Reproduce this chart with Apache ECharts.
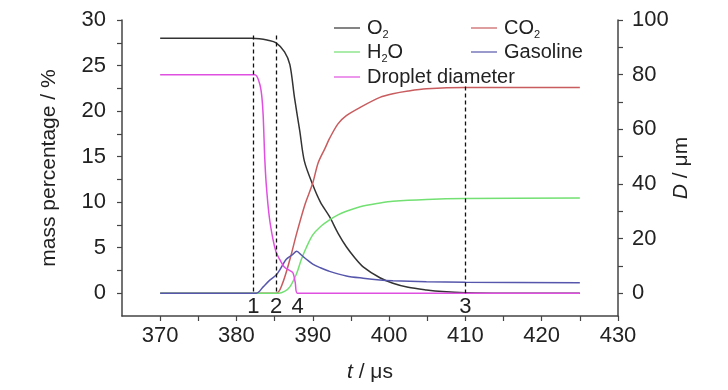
<!DOCTYPE html>
<html><head><meta charset="utf-8">
<script src="https://cdn.jsdelivr.net/npm/echarts@6/dist/echarts.min.js"></script>
<style>html,body{margin:0;padding:0;background:#fff}#c{width:728px;height:390px}</style>
</head><body><div id="c"></div>
<script>
// ---- data ----
var tO2 = [370, 382, 383, 384, 385.2, 386.3, 387, 387.6, 388.3, 388.9, 390, 391, 392.2, 393.3, 394.4, 395.5, 396.6, 398.8, 400.5, 402.5, 404.9, 407, 410, 415, 425];
var vO2 = [28, 28, 27.95, 27.8, 27.5, 26.5, 25.1, 21.5, 17.8, 14.5, 11.9, 10.0, 8.4, 6.6, 5.1, 3.9, 2.9, 1.7, 1.1, 0.65, 0.36, 0.18, 0.05, 0.0, 0.0];
var tCO2 = [370, 385.2, 386, 387, 387.9, 389, 390, 390.7, 391.6, 392.2, 393.3, 394.4, 396.2, 398.8, 400.5, 402.5, 404.9, 410, 425];
var vCO2 = [0, 0, 1.0, 3.7, 6.6, 9.8, 12.1, 14.3, 15.9, 17.0, 18.6, 19.5, 20.4, 21.5, 21.9, 22.2, 22.45, 22.6, 22.6];
var tH2O = [370, 385.5, 386.3, 387, 387.9, 388.5, 389.2, 390, 391, 392.2, 393.3, 394.4, 396.2, 398.8, 400.5, 404.9, 410, 425];
var vH2O = [0, 0, 0.2, 0.7, 2.2, 3.7, 5.1, 6.4, 7.3, 8.05, 8.6, 9.0, 9.5, 9.9, 10.1, 10.3, 10.4, 10.45];
var tGas = [370, 382.6, 383.5, 384.2, 385.2, 385.7, 386.5, 387.3, 387.9, 388.5, 389.2, 390, 391, 392.2, 394.4, 396.6, 398.8, 400.5, 404.9, 410, 425];
var vGas = [0, 0, 0.7, 1.3, 2.0, 2.6, 3.7, 4.2, 4.6, 4.2, 3.7, 3.2, 2.8, 2.4, 1.9, 1.65, 1.46, 1.38, 1.27, 1.2, 1.15];
var tDrop = [370, 382.4, 383.0, 383.3, 383.5, 383.7, 383.9, 384.3, 384.8, 385.2, 385.7, 386.3, 387.0, 387.4, 387.7, 388.0, 425];
var vDrop = [80, 80, 77, 72.6, 65, 50, 40, 28, 19.5, 15, 12.2, 9.5, 8.3, 7.5, 4, 0, 0];

var markerT = [382.2, 385.2, 388.0, 410];
var markerTop = [28.3, 28.3, null, 22.7];
var markerLabels = ['1', '2', '4', '3'];

var xTicks = [370, 380, 390, 400, 410, 420, 430];
var xMinorTicks = [370, 375, 380, 385, 390, 395, 400, 405, 410, 415, 420, 425, 430];
var yLeftTicks = [0, 5, 10, 15, 20, 25, 30];
var yLeftMinorTicks = [0, 2.5, 5, 7.5, 10, 12.5, 15, 17.5, 20, 22.5, 25, 27.5, 30];
var yRightTicks = [0, 20, 40, 60, 80, 100];
var yRightMinorTicks = [0, 10, 20, 30, 40, 50, 60, 70, 80, 90, 100];

var seriesNames = ['O2', 'CO2', 'H2O', 'Gasoline', 'Droplet diameter'];

// ---- build ----
function zip(a, b) { return a.map(function (t, i) { return [t, b[i]]; }); }
var FONT = '"Liberation Sans", Arial, sans-serif';
var axisCol = '#444';
var txtCol = '#222';
var colors = { 'O2': '#333333', 'CO2': '#c85c5e', 'H2O': '#72e072', 'Gasoline': '#5656ac', 'Droplet diameter': '#e050e0' };

var legendRich = {
  n: { fontSize: 20, fontFamily: FONT, color: txtCol, lineHeight: 24 },
  s: { fontSize: 11, fontFamily: FONT, color: txtCol, lineHeight: 11, verticalAlign: 'bottom' }
};
function legendFmt(name) {
  if (name === 'O2') return '{n|O}{s|2}';
  if (name === 'CO2') return '{n|CO}{s|2}';
  if (name === 'H2O') return '{n|H}{s|2}{n|O}';
  return '{n|' + name + '}';
}
function mkLegend(name, left, top) {
  return {
    data: [{ name: name, itemStyle: { color: colors[name] }, lineStyle: { color: colors[name], width: 1.5 } }],
    left: left, top: top, itemWidth: 26, itemHeight: 10,
    icon: 'path://M0,4.4L26,4.4L26,5.6L0,5.6Z',
    formatter: legendFmt, selectedMode: false,
    textStyle: { padding: [0, 0, 0, 2], rich: legendRich }
  };
}

var markLineData = [];
var labelPts = [];
markerT.forEach(function (t, i) {
  if (markerTop[i] !== null) markLineData.push([{ coord: [t, markerTop[i]] }, { coord: [t, 0] }]);
  labelPts.push({ value: [t, 0], label: { formatter: markerLabels[i] } });
});

function lineSeries(name, t, v, yIdx) {
  return {
    name: name, type: 'line', yAxisIndex: yIdx, data: zip(t, v), showSymbol: false, symbol: 'none',
    color: colors[name],
    smooth: 0.3, lineStyle: { width: 1.5, color: colors[name] }, itemStyle: { color: colors[name] },
    silent: true, animation: false
  };
}

var option = {
  animation: false,
  color: seriesNames.map(function (n) { return colors[n]; }),
  grid: { left: 122, right: 110, top: 20, bottom: 74, containLabel: false, outerBoundsMode: 'none' },
  legend: [
    mkLegend('O2', 329, 13),
    mkLegend('CO2', 466, 13),
    mkLegend('H2O', 329, 37),
    mkLegend('Gasoline', 466, 37),
    mkLegend('Droplet diameter', 329, 62)
  ],
  xAxis: {
    type: 'value', min: 365, max: 430,
    name: '{it|t} / μs', nameLocation: 'middle', nameGap: 46,
    nameTextStyle: { fontSize: 21, fontFamily: FONT, color: txtCol, rich: { it: { fontStyle: 'italic', fontSize: 21, fontFamily: FONT, color: txtCol } } },
    axisLine: { show: true, onZero: false, lineStyle: { color: axisCol, width: 1.5 } },
    axisTick: { show: true, length: 5, customValues: xMinorTicks, lineStyle: { color: axisCol, width: 1.2 } },
    axisLabel: { customValues: xTicks, margin: 9, fontSize: 22, fontFamily: FONT, color: txtCol },
    splitLine: { show: false }
  },
  yAxis: [
    {
      type: 'value', min: -2.5, max: 30, position: 'left',
      name: 'mass percentage / %', nameLocation: 'middle', nameGap: 62, nameRotate: 90,
      nameTextStyle: { fontSize: 21, fontFamily: FONT, color: txtCol },
      axisLine: { show: true, onZero: false, lineStyle: { color: axisCol, width: 1.5 } },
      axisTick: { show: true, length: 5, customValues: yLeftMinorTicks, lineStyle: { color: axisCol, width: 1.2 } },
      axisLabel: { customValues: yLeftTicks, margin: 16, fontSize: 22, fontFamily: FONT, color: txtCol },
      splitLine: { show: false }
    },
    {
      type: 'value', min: -25 / 3, max: 100, position: 'right',
      name: '{it|D} / μm', nameLocation: 'middle', nameGap: 53, nameRotate: 90, nameMoveOverlap: false,
      nameTextStyle: { fontSize: 21, fontFamily: FONT, color: txtCol, rich: { it: { fontStyle: 'italic', fontSize: 21, fontFamily: FONT, color: txtCol } } },
      axisLine: { show: true, onZero: false, lineStyle: { color: axisCol, width: 1.5 } },
      axisTick: { show: true, length: 5, customValues: yRightMinorTicks, lineStyle: { color: axisCol, width: 1.2 } },
      axisLabel: { customValues: yRightTicks, margin: 14, fontSize: 22, fontFamily: FONT, color: txtCol },
      splitLine: { show: false }
    }
  ],
  series: [
    lineSeries('O2', tO2, vO2, 0),
    lineSeries('CO2', tCO2, vCO2, 0),
    lineSeries('H2O', tH2O, vH2O, 0),
    lineSeries('Gasoline', tGas, vGas, 0),
    lineSeries('Droplet diameter', tDrop, vDrop, 1),
    {
      name: 'markers', type: 'scatter', yAxisIndex: 0, data: labelPts, symbolSize: 0, silent: true,
      itemStyle: { opacity: 1, color: '#222' },
      label: { show: true, position: 'bottom', distance: 3, fontSize: 22, fontFamily: FONT, color: txtCol, opacity: 1 },
      markLine: {
        silent: true, symbol: ['none', 'none'], label: { show: false },
        lineStyle: { type: [4, 3], color: '#111', width: 1.3, opacity: 1 },
        data: markLineData
      }
    }
  ]
};
var chart = echarts.init(document.getElementById('c'), null, { renderer: 'canvas' });
chart.setOption(option);
</script></body></html>
